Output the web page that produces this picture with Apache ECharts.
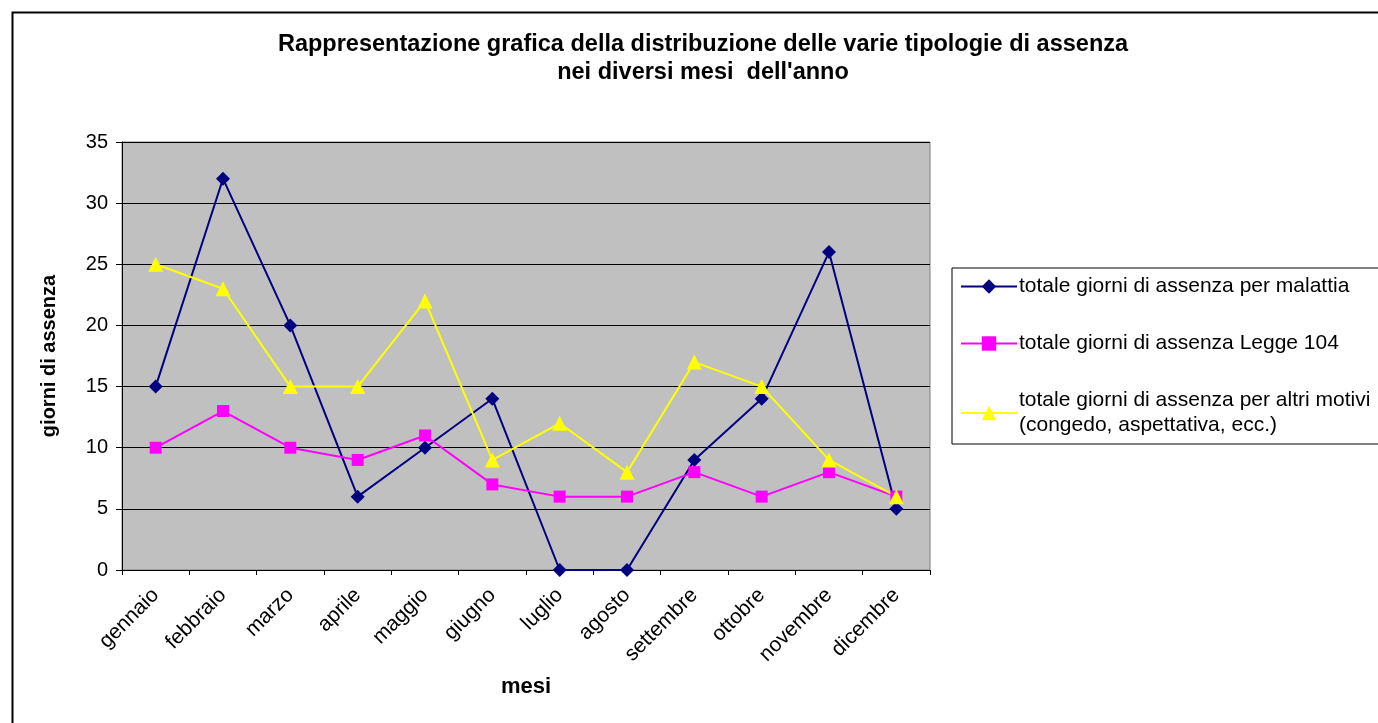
<!DOCTYPE html>
<html><head><meta charset="utf-8">
<script src="https://cdn.jsdelivr.net/npm/echarts@6/dist/echarts.min.js"></script>
<style>html,body{margin:0;padding:0;background:#fff}#c{width:1378px;height:723px}</style>
</head><body><div id="c"></div>
<script>
const months = ['gennaio','febbraio','marzo','aprile','maggio','giugno','luglio','agosto','settembre','ottobre','novembre','dicembre'];
const malattia = [15, 32, 20, 6, 10, 14, 0, 0, 9, 14, 26, 5];
const legge104 = [10, 13, 10, 9, 11, 7, 6, 6, 8, 6, 8, 6];
const altri = [25, 23, 15, 15, 22, 9, 12, 8, 17, 15, 9, 6];
const names = ['totale giorni di assenza per malattia','totale giorni di assenza Legge 104','totale giorni di assenza per altri motivi\n(congedo, aspettativa, ecc.)'];
const F = 'Arial, "Liberation Sans", sans-serif';
const chart = echarts.init(document.getElementById('c'), null, {renderer:'canvas'});
chart.setOption({
  animation:false,
  graphic:[{type:'rect',left:10,top:10,shape:{width:1420,height:760},style:{fill:'none',stroke:'#000',lineWidth:2},silent:true}],
  title:{text:"Rappresentazione grafica della distribuzione delle varie tipologie di assenza\nnei diversi mesi  dell'anno",left:703,textAlign:'center',top:31,padding:0,
    textStyle:{fontFamily:F,fontSize:23.5,fontWeight:'bold',color:'#000',lineHeight:28}},
  grid:{left:122,top:142,width:808,height:428,show:true,backgroundColor:'#C0C0C0',borderColor:'#808080',borderWidth:1,containLabel:false},
  legend:{orient:'vertical',left:952,top:268,padding:[6,200,6,8],itemGap:32,itemWidth:56,itemHeight:18,
    borderColor:'#000',borderWidth:1,backgroundColor:'#fff',
    textStyle:{fontFamily:F,fontSize:21,color:'#000',lineHeight:25,padding:[0,0,0,-3]},
    data:names.map(n=>({name:n}))},
  xAxis:{type:'category',data:months,boundaryGap:true,
    name:'mesi',nameLocation:'middle',nameGap:106,nameTextStyle:{fontFamily:F,fontSize:22,fontWeight:'bold',color:'#000'},
    axisLine:{lineStyle:{color:'#000',width:1}},
    axisTick:{show:true,alignWithLabel:false,length:5,lineStyle:{color:'#000'}},
    axisLabel:{rotate:45,fontFamily:F,fontSize:21,color:'#000',margin:22,interval:0}},
  yAxis:{type:'value',min:0,max:35,interval:5,
    name:'giorni di assenza',nameLocation:'middle',nameGap:63,nameRotate:90,nameTextStyle:{fontFamily:F,fontSize:20,fontWeight:'bold',color:'#000'},
    axisLine:{show:true,lineStyle:{color:'#000',width:1}},
    axisTick:{show:true,length:6,lineStyle:{color:'#000'}},
    axisLabel:{fontFamily:F,fontSize:20,color:'#000',margin:14},
    splitLine:{lineStyle:{color:'#000',width:1}}},
  series:[
    {name:names[0],type:'line',data:malattia,symbol:'diamond',symbolSize:14,itemStyle:{color:'#000080'},lineStyle:{color:'#000080',width:2}},
    {name:names[1],type:'line',data:legge104,symbol:'rect',symbolSize:12,itemStyle:{color:'#FF00FF'},lineStyle:{color:'#FF00FF',width:2}},
    {name:names[2],type:'line',data:altri,symbol:'triangle',symbolSize:15,itemStyle:{color:'#FFFF00'},lineStyle:{color:'#FFFF00',width:2}}
  ]
});
</script></body></html>
